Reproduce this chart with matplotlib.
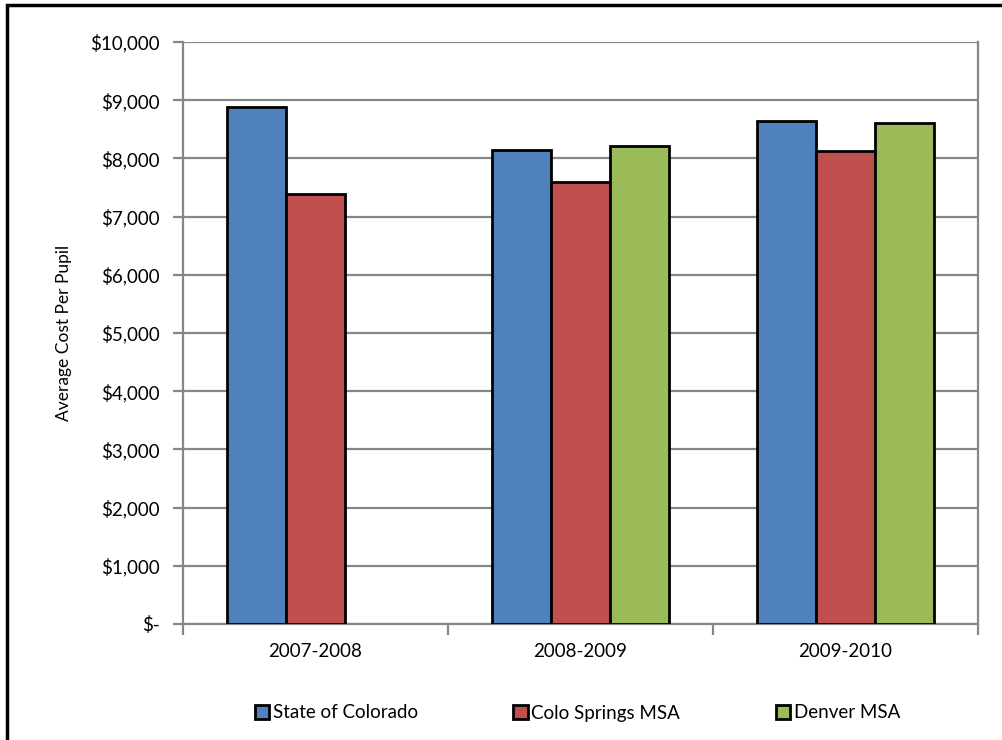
import numpy as np
import matplotlib
matplotlib.use("Agg")
import matplotlib.pyplot as plt
from matplotlib.patches import Rectangle
from matplotlib.ticker import FuncFormatter

years = ["2007-2008", "2008-2009", "2009-2010"]
state_co = [8890, 8140, 8640]
colo_springs = [7380, 7590, 8130]
denver = [np.nan, 8210, 8610]

series = [("State of Colorado", state_co, "#4f81bd"),
          ("Colo Springs MSA", colo_springs, "#c0504d"),
          ("Denver MSA", denver, "#9bbb59")]

plt.rcParams['font.family'] = ['Lato', 'DejaVu Sans']

fig = plt.figure(figsize=(10.02, 7.4), dpi=100)
ax = fig.add_axes([0.1826, 0.1568, 0.7934, 0.7864])

x = np.arange(len(years))
w = 1 / 4.5
for i, (name, vals, col) in enumerate(series):
    ax.bar(x + (i - 1) * w, vals, w, color=col, edgecolor="black",
           linewidth=2, label=name, zorder=3)

grey = "#878787"
ax.set_xlim(-0.5, 2.5)
ax.set_ylim(0, 10000)
ax.set_yticks(np.arange(0, 10001, 1000))
ax.yaxis.set_major_formatter(FuncFormatter(
    lambda v, p: "$-" if v == 0 else "${:,.0f}".format(v)))
ax.grid(axis="y", color=grey, linewidth=1.6, zorder=0)
ax.set_xticks(x)
ax.set_xticklabels(years)
ax.set_xticks([-0.5, 0.5, 1.5, 2.5], minor=True)
ax.tick_params(axis="x", which="major", length=0, pad=14, labelsize=13.5)
ax.tick_params(axis="x", which="minor", length=8, color=grey, width=1.6)
ax.tick_params(axis="y", length=7, color=grey, width=1.6, labelsize=13.5, pad=10)
for s in ["left", "bottom", "right"]:
    ax.spines[s].set_color(grey)
    ax.spines[s].set_linewidth(1.6)
ax.spines["top"].set_visible(False)
ax.set_ylabel("Average Cost Per Pupil", fontsize=12.5, labelpad=13)

leg = fig.legend(*ax.get_legend_handles_labels(), loc="center left",
                 bbox_to_anchor=(238 / 1002, 1 - 713 / 740), ncol=3,
                 frameon=False, fontsize=13.5, handlelength=0.75, handleheight=0.75,
                 handletextpad=0.2, columnspacing=5.1)

fig.patches.append(Rectangle((0.007, -0.1), 1.2, 1.093, transform=fig.transFigure,
                             fill=False, edgecolor="black", linewidth=2.5))

fig.savefig("out.png", dpi=100)
